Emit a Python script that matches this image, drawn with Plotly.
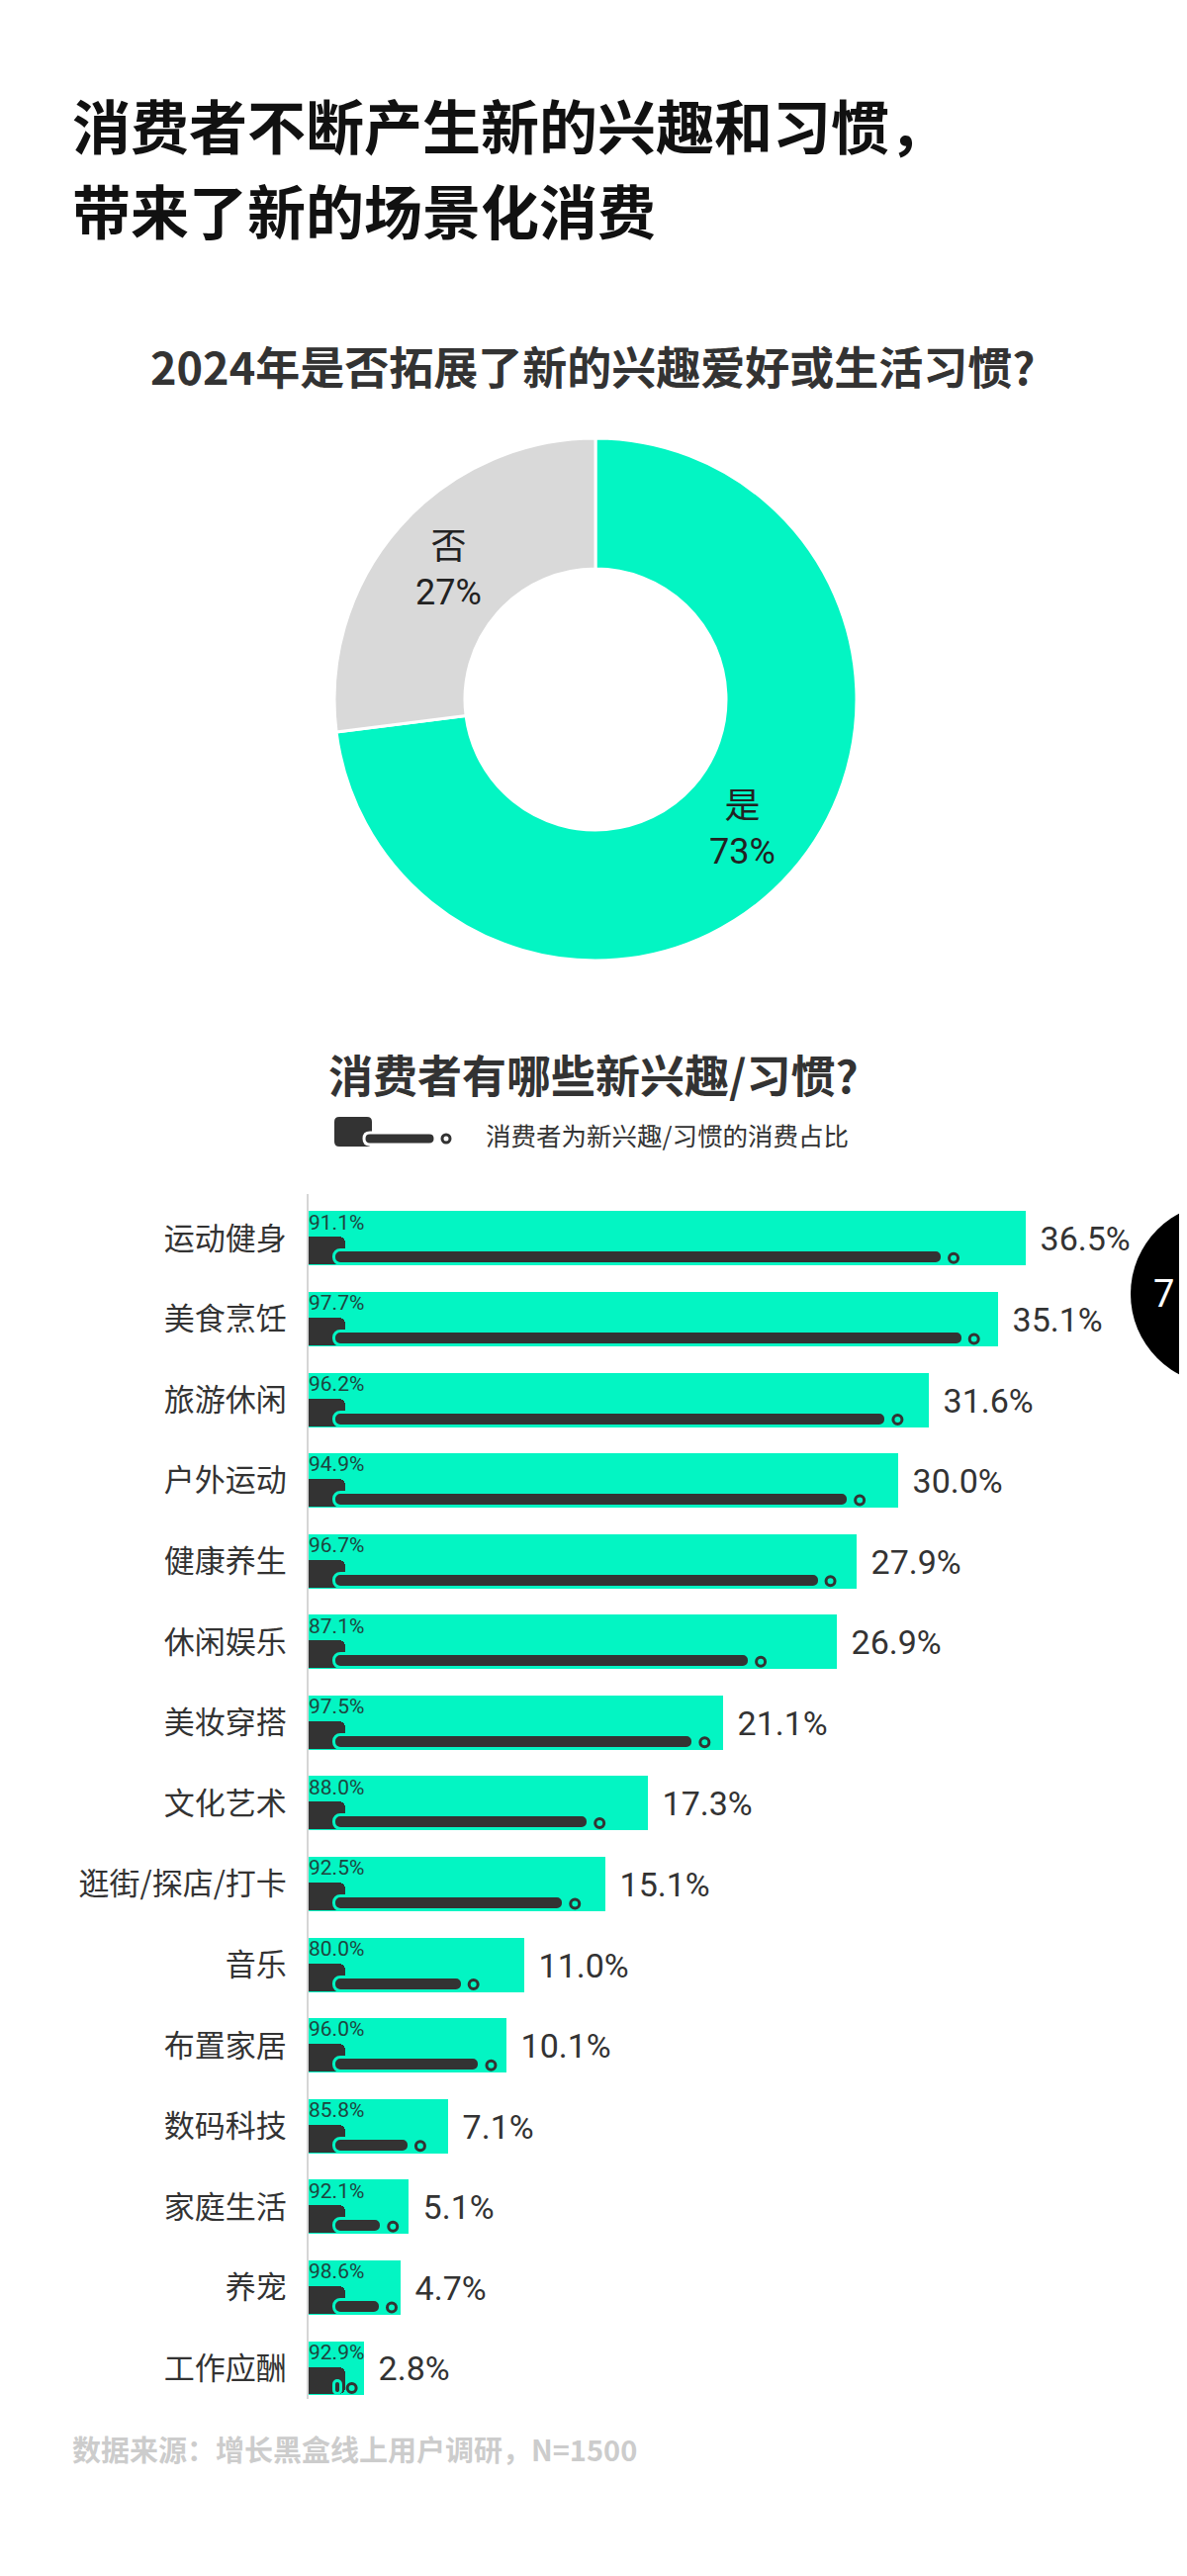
import plotly.graph_objects as go

# ---------------- data ----------------
pie_labels = ["是", "否"]
pie_values = [73, 27]

categories = ["运动健身", "美食烹饪", "旅游休闲", "户外运动", "健康养生", "休闲娱乐", "美妆穿搭",
              "文化艺术", "逛街/探店/打卡", "音乐", "布置家居", "数码科技", "家庭生活", "养宠", "工作应酬"]
interest_share = [36.5, 35.1, 31.6, 30.0, 27.9, 26.9, 21.1, 17.3, 15.1, 11.0, 10.1, 7.1, 5.1, 4.7, 2.8]
spend_share = [91.1, 97.7, 96.2, 94.9, 96.7, 87.1, 97.5, 88.0, 92.5, 80.0, 96.0, 85.8, 92.1, 98.6, 92.9]

# ---------------- style ----------------
W, H = 1200, 2604
TEAL = "#03F5C3"
GRAY = "#D9D9D9"
DARK = "#333333"
CJK = "Noto Sans CJK SC"
NUM = "Roboto, Noto Sans CJK SC"

PX_PER_PCT = 19.85      # horizontal pixels per percentage point
ROW = 81.6              # vertical pixels per category row


def px(x):
    return x / W


def py(y):
    return 1 - y / H


def u(pxv):          # pixels -> category-axis units
    return pxv / ROW


def xu(pxv):         # pixels -> value-axis units
    return pxv / PX_PER_PCT


def rr(x0, y0, x1, y1, r):
    pts = [("M", x0 + r, y0), ("L", x1 - r, y0), ("Q", x1, y0, x1, y0 + r), ("L", x1, y1 - r),
           ("Q", x1, y1, x1 - r, y1), ("L", x0 + r, y1), ("Q", x0, y1, x0, y1 - r),
           ("L", x0, y0 + r), ("Q", x0, y0, x0 + r, y0)]
    out = []
    for p in pts:
        cmd = p[0]
        coords = p[1:]
        s = " ".join(f"{px(coords[i]):.5f},{py(coords[i + 1]):.5f}" for i in range(0, len(coords), 2))
        out.append(f"{cmd}{s}")
    return " ".join(out) + " Z"


n = len(categories)
idx = list(range(n))
end_vals = [v * p / 100 for v, p in zip(interest_share, spend_share)]

fig = go.Figure()

# donut
fig.add_trace(go.Pie(
    labels=pie_labels, values=pie_values, hole=0.5, sort=False, direction="clockwise", rotation=0,
    marker=dict(colors=[TEAL, GRAY], line=dict(color="white", width=3)),
    texttemplate="%{label}<br>%{value}%", textposition="inside", insidetextorientation="horizontal",
    textfont=dict(family=NUM, size=36, color="#222222"),
    domain=dict(x=[px(330), px(858)], y=[py(963), py(435)]),
    showlegend=False, hoverinfo="skip",
))

# main teal bars
fig.add_trace(go.Bar(
    y=idx, x=interest_share, orientation="h",
    width=u(55), offset=-u(55) / 2,
    marker=dict(color=TEAL, line=dict(width=0)),
    texttemplate="\u2004%{x:.1f}%", textposition="outside", constraintext="none",
    outsidetextfont=dict(family=NUM, size=34, color=DARK),
    cliponaxis=False, showlegend=False, hoverinfo="skip",
))

# dark block at the start of each bar
fig.add_trace(go.Bar(
    y=idx, x=[xu(37)] * n, orientation="h",
    width=u(28), offset=-u(1.5),
    marker=dict(color=DARK, line=dict(width=0), cornerradius=6),
    showlegend=False, hoverinfo="skip",
))

# thin pill = share of spending
fig.add_trace(go.Bar(
    y=idx, x=[max(e - xu(19) - xu(26), 0.05) for e in end_vals], base=[xu(26)] * n, orientation="h",
    width=u(14), offset=u(12.5),
    marker=dict(color=DARK, line=dict(color=TEAL, width=3), cornerradius="50%"),
    showlegend=False, hoverinfo="skip",
))

# end circles
fig.add_trace(go.Scatter(
    y=[i + u(20) for i in idx], x=[e - xu(8) for e in end_vals], mode="markers",
    marker=dict(size=9, color=TEAL, line=dict(color=DARK, width=3)),
    cliponaxis=False, showlegend=False, hoverinfo="skip",
))

# small spending-share labels
fig.add_trace(go.Scatter(
    y=[i - u(14.5) for i in idx], x=[0] * n, mode="text",
    text=[f"{p:.1f}%" for p in spend_share], textposition="middle right",
    textfont=dict(family=NUM, size=21, color="#1E463F"),
    cliponaxis=False, showlegend=False, hoverinfo="skip",
))

fig.update_layout(
    width=W, height=H, margin=dict(l=0, r=0, t=0, b=0),
    paper_bgcolor="white", plot_bgcolor="white",
    barmode="overlay", bargap=0,
    xaxis=dict(domain=[px(304), 1], range=[0, xu(W - 304)], visible=False, fixedrange=True),
    yaxis=dict(domain=[py(2417), py(1199)], range=[14.38, -0.55],
               tickmode="array", tickvals=idx, ticktext=categories,
               tickfont=dict(family=CJK, size=31, color=DARK), ticks="", ticklabelstandoff=14,
               showline=True, linecolor="#D6D6D6", linewidth=2, showgrid=False, zeroline=False),
)

shapes = [
    # legend icon
    dict(type="path", xref="paper", yref="paper", path=rr(330, 1121, 368, 1151, 5),
         fillcolor=DARK, line=dict(width=0)),
    dict(type="path", xref="paper", yref="paper", path=rr(360, 1137, 432, 1149, 6),
         fillcolor=DARK, line=dict(color="white", width=3)),
    dict(type="circle", xref="paper", yref="paper", x0=px(439), x1=px(447), y0=py(1147), y1=py(1139),
         fillcolor="white", line=dict(color=DARK, width=3)),
    # page number badge
    dict(type="circle", xref="paper", yref="paper", x0=px(1135), x1=px(1319), y0=py(1392), y1=py(1208),
         fillcolor="black", line=dict(width=0)),
]
fig.update_layout(shapes=shapes)

annotations = [
    dict(text="消费者不断产生新的兴趣和习惯，", x=px(63), y=py(117), xanchor="left", yanchor="middle",
         font=dict(family=CJK, size=59, color="#111111", weight="bold")),
    dict(text="带来了新的场景化消费", x=px(63), y=py(204), xanchor="left", yanchor="middle",
         font=dict(family=CJK, size=59, color="#111111", weight="bold")),
    dict(text="2024年是否拓展了新的兴趣爱好或生活习惯?", x=px(591), y=py(361), xanchor="center", yanchor="middle",
         font=dict(family=CJK, size=45, color=DARK, weight="bold")),
    dict(text="消费者有哪些新兴趣/习惯?", x=px(592), y=py(1077), xanchor="center", yanchor="middle",
         font=dict(family=CJK, size=45, color=DARK, weight="bold")),
    dict(text="消费者为新兴趣/习惯的消费占比", x=px(481), y=py(1138), xanchor="left", yanchor="middle",
         font=dict(family=CJK, size=25.5, color=DARK)),
    dict(text="7", x=px(1168), y=py(1300), xanchor="center", yanchor="middle",
         font=dict(family=NUM, size=38, color="white")),
    dict(text="数据来源：增长黑盒线上用户调研，N=1500", x=px(63), y=py(2467), xanchor="left", yanchor="middle",
         font=dict(family=CJK, size=29, color="#CCCCCC", weight="bold")),
]
for a in annotations:
    a.update(xref="paper", yref="paper", showarrow=False)
fig.update_layout(annotations=annotations)

fig.write_html("out.html")
